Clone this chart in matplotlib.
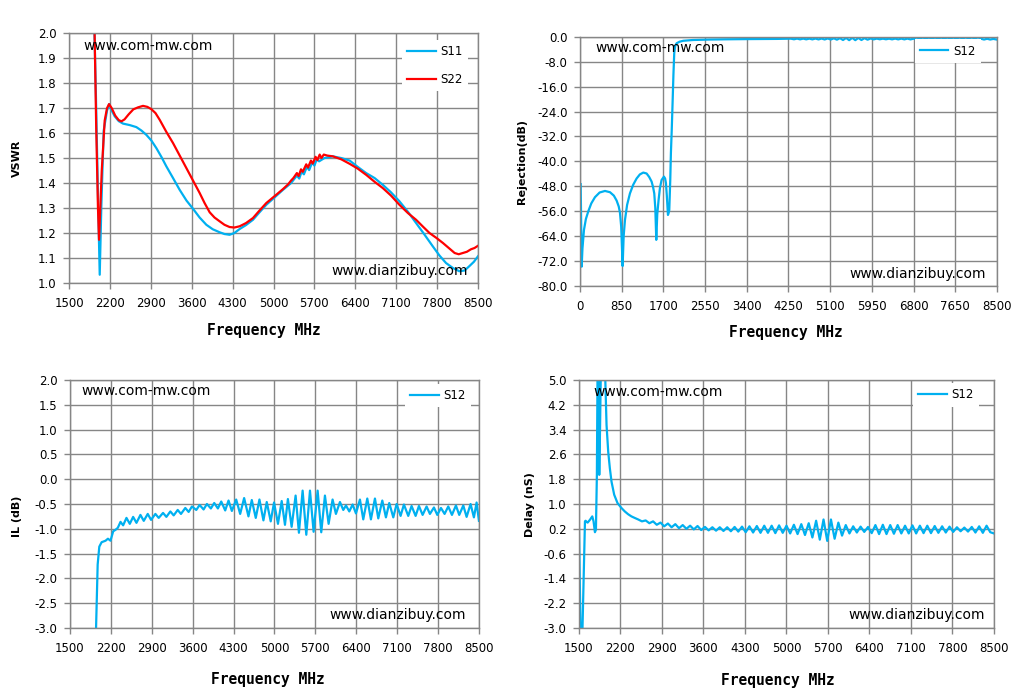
import matplotlib
matplotlib.use("Agg")
import matplotlib.pyplot as plt
from matplotlib.ticker import FormatStrFormatter

BLUE = "#00B0F0"
RED = "#FF0000"
GRID = "#868686"

# ---- data (MHz, value) ----
vswr_ticks_x = [1500, 2200, 2900, 3600, 4300, 5000, 5700, 6400, 7100, 7800, 8500]
rej_ticks_x = [0, 850, 1700, 2550, 3400, 4250, 5100, 5950, 6800, 7650, 8500]

vswr_ticks_y = [1.0, 1.1, 1.2, 1.3, 1.4, 1.5, 1.6, 1.7, 1.8, 1.9, 2.0]
rej_ticks_y = [-80, -72, -64, -56, -48, -40, -32, -24, -16, -8, 0]
il_ticks_y = [-3.0, -2.5, -2.0, -1.5, -1.0, -0.5, 0.0, 0.5, 1.0, 1.5, 2.0]
delay_ticks_y = [-3.0, -2.2, -1.4, -0.6, 0.2, 1.0, 1.8, 2.6, 3.4, 4.2, 5.0]

s11_pts = [
    (1925, 2.1), (1960, 1.75), (1995, 1.35), (2025, 1.033), (2053, 1.31),
    (2093, 1.61), (2150, 1.69), (2185, 1.716), (2230, 1.69), (2282, 1.667),
    (2350, 1.648), (2424, 1.638), (2540, 1.632), (2652, 1.624), (2740, 1.61),
    (2823, 1.593), (2910, 1.57), (2994, 1.54), (3080, 1.505), (3165, 1.467),
    (3280, 1.42), (3393, 1.373), (3510, 1.33), (3622, 1.297), (3735, 1.262),
    (3850, 1.233), (3960, 1.215), (4077, 1.203), (4160, 1.196), (4248, 1.193),
    (4330, 1.2), (4420, 1.216), (4530, 1.232), (4648, 1.253), (4760, 1.283),
    (4876, 1.313), (5020, 1.343), (5162, 1.373), (5300, 1.40), (5400, 1.43),
    (5440, 1.418), (5480, 1.445), (5520, 1.435), (5570, 1.465), (5610, 1.452),
    (5660, 1.482), (5700, 1.47), (5740, 1.495), (5780, 1.487), (5870, 1.50),
    (6015, 1.507), (6160, 1.50), (6303, 1.49), (6440, 1.465), (6585, 1.44),
    (6730, 1.42), (6870, 1.393), (7010, 1.363), (7155, 1.327), (7300, 1.285),
    (7440, 1.24), (7580, 1.195), (7725, 1.147), (7840, 1.11), (7952, 1.08),
    (8070, 1.06), (8180, 1.047), (8270, 1.05), (8350, 1.067), (8430, 1.085),
    (8500, 1.107),
]

s22_pts = [
    (1930, 2.1), (1965, 1.62), (1995, 1.3), (2013, 1.173), (2060, 1.45),
    (2110, 1.65), (2150, 1.70), (2185, 1.716), (2230, 1.70), (2290, 1.67),
    (2350, 1.652), (2396, 1.647), (2450, 1.655), (2520, 1.675), (2600, 1.695),
    (2680, 1.703), (2766, 1.709), (2840, 1.705), (2908, 1.696), (2980, 1.68),
    (3052, 1.653), (3165, 1.605), (3280, 1.56), (3394, 1.51), (3508, 1.46),
    (3622, 1.41), (3736, 1.36), (3820, 1.32), (3907, 1.283), (3990, 1.262),
    (4077, 1.247), (4160, 1.233), (4248, 1.224), (4330, 1.222), (4420, 1.227),
    (4530, 1.24), (4648, 1.26), (4760, 1.29), (4876, 1.32), (5020, 1.348),
    (5162, 1.376), (5250, 1.395), (5300, 1.41), (5340, 1.42), (5400, 1.44),
    (5430, 1.428), (5470, 1.455), (5500, 1.445), (5560, 1.475), (5590, 1.462),
    (5640, 1.49), (5670, 1.478), (5720, 1.505), (5750, 1.492), (5790, 1.514),
    (5820, 1.50), (5860, 1.514), (5920, 1.51), (6015, 1.507), (6160, 1.495),
    (6303, 1.477), (6440, 1.458), (6585, 1.433), (6730, 1.405), (6870, 1.38),
    (7010, 1.35), (7155, 1.313), (7300, 1.28), (7440, 1.253), (7560, 1.225),
    (7670, 1.2), (7790, 1.18), (7900, 1.16), (8000, 1.14), (8100, 1.12),
    (8170, 1.115), (8240, 1.12), (8310, 1.125), (8380, 1.135), (8440, 1.14),
    (8500, 1.149),
]

rej_pts = [
    (14, -47.3), (34, -73.8), (50, -68), (81, -62), (120, -58.5), (170, -56),
    (230, -53.5), (305, -51.5), (400, -50), (509, -49.5), (611, -49.9),
    (690, -51), (747, -52.6), (790, -54.5), (815, -56.5), (840, -61),
    (869, -73.6), (890, -64), (917, -58.8), (960, -54), (1018, -50.3),
    (1085, -47.5), (1154, -45.5), (1220, -44.2), (1290, -43.6), (1358, -43.9),
    (1410, -45), (1460, -46.5), (1490, -48.3), (1514, -50.3), (1535, -55),
    (1555, -65.2), (1575, -57), (1602, -52.4), (1630, -48.5), (1663, -46),
    (1711, -44.9), (1735, -45.5), (1752, -47), (1770, -51), (1793, -57.2),
    (1808, -56.5), (1820, -55.6), (1840, -46), (1853, -37.4), (1870, -30),
    (1887, -21.4), (1905, -12), (1921, -5.3), (1940, -3.0), (1969, -2.1),
    (2030, -1.6), (2105, -1.3), (2300, -1.05), (2648, -0.9), (3000, -0.82),
    (3400, -0.76), (4006, -0.7), (4300, -0.62), (4362, -0.82), (4425, -0.6),
    (4487, -0.84), (4550, -0.6), (4612, -0.84), (4675, -0.6), (4737, -0.85),
    (4800, -0.58), (4862, -0.86), (4925, -0.58), (4987, -0.88), (5050, -0.55),
    (5112, -0.9), (5175, -0.5), (5237, -0.95), (5300, -0.45), (5362, -1.05),
    (5425, -0.38), (5487, -1.1), (5550, -0.35), (5612, -1.1), (5675, -0.38),
    (5737, -1.05), (5800, -0.45), (5862, -0.95), (5925, -0.55), (5987, -0.85),
    (6050, -0.6), (6112, -0.82), (6175, -0.62), (6237, -0.82), (6300, -0.62),
    (6362, -0.84), (6425, -0.6), (6487, -0.85), (6550, -0.6), (6612, -0.85),
    (6675, -0.6), (6737, -0.86), (6800, -0.62), (6862, -0.86), (6925, -0.62),
    (6987, -0.85), (7050, -0.64), (7112, -0.84), (7175, -0.64), (7237, -0.84),
    (7300, -0.65), (7362, -0.84), (7425, -0.66), (7487, -0.83), (7550, -0.66),
    (7612, -0.84), (7675, -0.65), (7737, -0.85), (7800, -0.66), (7862, -0.86),
    (7925, -0.66), (7987, -0.86), (8050, -0.65), (8112, -0.88), (8175, -0.64),
    (8237, -0.9), (8300, -0.65), (8362, -0.9), (8425, -0.7), (8500, -0.92),
]

il_pts = [
    (1940, -3.3), (1974, -1.72), (2002, -1.36), (2042, -1.27), (2109, -1.24),
    (2150, -1.20), (2194, -1.24), (2240, -1.05), (2280, -1.02), (2319, -0.98),
    (2365, -0.86), (2410, -0.93), (2467, -0.78), (2524, -0.90), (2581, -0.76),
    (2638, -0.88), (2706, -0.72), (2763, -0.84), (2831, -0.70), (2888, -0.82),
    (2962, -0.70), (3019, -0.78), (3093, -0.68), (3150, -0.76), (3218, -0.65),
    (3275, -0.73), (3344, -0.62), (3400, -0.70), (3474, -0.58), (3531, -0.66),
    (3588, -0.55), (3662, -0.62), (3719, -0.52), (3787, -0.61), (3844, -0.50),
    (3912, -0.59), (3969, -0.48), (4032, -0.59), (4089, -0.45), (4157, -0.63),
    (4214, -0.43), (4271, -0.64), (4345, -0.41), (4413, -0.70), (4481, -0.38),
    (4555, -0.75), (4612, -0.42), (4680, -0.78), (4743, -0.41), (4811, -0.83),
    (4868, -0.46), (4936, -0.85), (4993, -0.47), (5060, -0.90), (5124, -0.44),
    (5180, -0.92), (5230, -0.40), (5294, -0.96), (5362, -0.33), (5419, -1.08),
    (5482, -0.23), (5545, -1.12), (5608, -0.23), (5670, -1.06), (5739, -0.23),
    (5801, -1.07), (5864, -0.33), (5927, -0.90), (5995, -0.41), (6052, -0.70),
    (6121, -0.46), (6178, -0.62), (6224, -0.53), (6281, -0.65), (6338, -0.51),
    (6395, -0.69), (6463, -0.41), (6520, -0.81), (6589, -0.39), (6651, -0.81),
    (6720, -0.39), (6777, -0.79), (6846, -0.43), (6908, -0.77), (6965, -0.48),
    (7034, -0.77), (7091, -0.50), (7159, -0.74), (7216, -0.51), (7290, -0.74),
    (7347, -0.54), (7416, -0.74), (7473, -0.54), (7536, -0.72), (7604, -0.55),
    (7661, -0.70), (7730, -0.57), (7787, -0.72), (7850, -0.58), (7912, -0.70),
    (7975, -0.55), (8038, -0.72), (8106, -0.53), (8163, -0.72), (8232, -0.53),
    (8289, -0.76), (8357, -0.50), (8414, -0.77), (8460, -0.47), (8500, -0.84),
]

delay_pts = [
    (1500, 0.22), (1528, -3.3), (1556, -3.3), (1601, 0.44), (1612, 0.46),
    (1630, 0.42), (1646, 0.40), (1685, 0.49), (1724, 0.6), (1746, 0.44),
    (1769, 0.09), (1786, 0.17), (1802, 1.94), (1814, 5.5), (1828, 5.5),
    (1842, 1.94), (1856, 3.5), (1870, 5.5), (1937, 5.5), (1965, 3.55),
    (1993, 2.69), (2021, 2.15), (2049, 1.72), (2094, 1.3), (2150, 1.03),
    (2217, 0.87), (2273, 0.76), (2329, 0.67), (2385, 0.6), (2441, 0.55),
    (2500, 0.5), (2562, 0.44), (2625, 0.47), (2687, 0.38), (2750, 0.44),
    (2812, 0.33), (2875, 0.40), (2937, 0.28), (3000, 0.37), (3062, 0.25),
    (3125, 0.35), (3187, 0.22), (3250, 0.32), (3312, 0.20), (3375, 0.30),
    (3437, 0.18), (3500, 0.29), (3562, 0.16), (3625, 0.26), (3687, 0.15),
    (3750, 0.25), (3812, 0.14), (3875, 0.25), (3937, 0.13), (4000, 0.25),
    (4062, 0.12), (4125, 0.26), (4187, 0.11), (4250, 0.27), (4312, 0.09),
    (4375, 0.28), (4437, 0.08), (4500, 0.29), (4562, 0.07), (4625, 0.30),
    (4687, 0.07), (4750, 0.30), (4812, 0.06), (4875, 0.31), (4937, 0.07),
    (5000, 0.30), (5062, 0.05), (5125, 0.33), (5187, 0.03), (5250, 0.35),
    (5312, 0.0), (5375, 0.38), (5437, -0.08), (5500, 0.46), (5562, -0.15),
    (5625, 0.50), (5687, -0.19), (5750, 0.50), (5812, -0.12), (5875, 0.40),
    (5937, -0.02), (6000, 0.32), (6062, 0.05), (6125, 0.28), (6187, 0.08),
    (6250, 0.27), (6312, 0.10), (6375, 0.26), (6437, 0.06), (6500, 0.32),
    (6562, 0.03), (6625, 0.33), (6687, 0.03), (6750, 0.32), (6812, 0.04),
    (6875, 0.32), (6937, 0.05), (7000, 0.30), (7062, 0.05), (7125, 0.31),
    (7187, 0.05), (7250, 0.30), (7312, 0.06), (7375, 0.30), (7437, 0.06),
    (7500, 0.29), (7562, 0.07), (7625, 0.28), (7687, 0.08), (7750, 0.27),
    (7812, 0.10), (7875, 0.25), (7937, 0.12), (8000, 0.24), (8062, 0.11),
    (8125, 0.26), (8187, 0.08), (8250, 0.28), (8312, 0.07), (8375, 0.30),
    (8437, 0.09), (8500, 0.05),
]


def unzip(pts):
    return [p[0] for p in pts], [p[1] for p in pts]


def style(ax, xt, yt, fmt):
    ax.set_xlim(xt[0], xt[-1])
    ax.set_ylim(yt[0], yt[-1])
    ax.set_xticks(xt)
    ax.set_yticks(yt)
    ax.yaxis.set_major_formatter(FormatStrFormatter(fmt))
    ax.grid(True, color=GRID, linewidth=1.0)
    for s in ax.spines.values():
        s.set_color(GRID)
        s.set_linewidth(1.0)
    ax.tick_params(direction="out", length=4, width=1.0, color=GRID,
                   labelsize=8.5, labelcolor="black")
    ax.tick_params(axis="x", pad=6)
    ax.tick_params(axis="y", pad=5)


def labels(ax, ylab, xlab_pos, ylab_pos):
    ax.set_xlabel("Frequency MHz", family="DejaVu Sans Mono", weight="bold",
                  fontsize=10.5)
    ax.xaxis.set_label_coords(*xlab_pos)
    ax.xaxis.label.set_verticalalignment("center")
    ax.set_ylabel(ylab, weight="bold", fontsize=8)
    ax.yaxis.set_label_coords(*ylab_pos)
    ax.yaxis.label.set_verticalalignment("center")


def marks(ax, top_pos, bot_pos):
    ax.text(top_pos[0], top_pos[1], "www.com-mw.com", transform=ax.transAxes,
            fontsize=10, ha="left", va="center", zorder=6)
    ax.text(bot_pos[0], bot_pos[1], "www.dianzibuy.com", transform=ax.transAxes,
            fontsize=10, ha="right", va="center", zorder=6)


def legend(ax, anchor):
    ax.legend(loc="upper left", bbox_to_anchor=anchor, borderaxespad=0,
              frameon=True, fancybox=False, edgecolor="none", facecolor="white",
              framealpha=1, fontsize=8.5, handlelength=2.4, handletextpad=0.4,
              labelspacing=1.25, borderpad=0.45)


fig = plt.figure(figsize=(10.26, 6.97), dpi=100)
fig.patch.set_facecolor("white")

# VSWR
ax1 = fig.add_axes([0.0673, 0.594, 0.3986, 0.3584])
x, y = unzip(s11_pts)
ax1.plot(x, y, color=BLUE, lw=1.6, label="S11")
x, y = unzip(s22_pts)
ax1.plot(x, y, color=RED, lw=1.6, label="S22")
style(ax1, vswr_ticks_x, vswr_ticks_y, "%.1f")
labels(ax1, "VSWR", (0.477, -0.192), (-0.127, 0.5))
marks(ax1, (0.034, 0.949), (0.976, 0.048))
legend(ax1, (0.814, 0.973))

# Rejection
ax2 = fig.add_axes([0.5653, 0.5897, 0.4064, 0.3576])
x, y = unzip(rej_pts)
ax2.plot(x, y, color=BLUE, lw=1.6, label="S12")
style(ax2, rej_ticks_x, rej_ticks_y, "%.1f")
labels(ax2, "Rejection(dB)", (0.494, -0.188), (-0.139, 0.5))
marks(ax2, (0.036, 0.955), (0.974, 0.048))
legend(ax2, (0.803, 0.99))

# IL
ax3 = fig.add_axes([0.0682, 0.099, 0.3986, 0.3558])
x, y = unzip(il_pts)
ax3.plot(x, y, color=BLUE, lw=1.6, label="S12")
style(ax3, vswr_ticks_x, il_ticks_y, "%.1f")
labels(ax3, "IL (dB)", (0.484, -0.206), (-0.13, 0.45))
marks(ax3, (0.027, 0.956), (0.968, 0.052))
legend(ax3, (0.819, 0.985))

# Delay
ax4 = fig.add_axes([0.5643, 0.099, 0.4045, 0.3558])
x, y = unzip(delay_pts)
ax4.plot(x, y, color=BLUE, lw=1.6, label="S12")
style(ax4, vswr_ticks_x, delay_ticks_y, "%.1f")
labels(ax4, "Delay (nS)", (0.48, -0.21), (-0.118, 0.496))
marks(ax4, (0.036, 0.952), (0.978, 0.052))
legend(ax4, (0.805, 0.988))

fig.savefig("out.png", dpi=100, facecolor="white")
